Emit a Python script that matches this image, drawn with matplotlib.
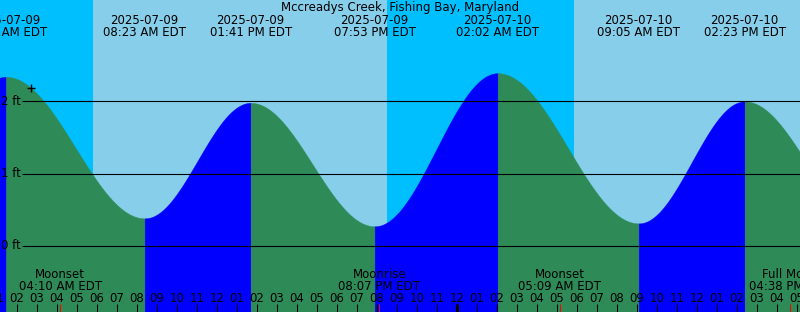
import numpy as np
import matplotlib.pyplot as plt

# --- data (hours counted from 2025-07-09 00:00 EDT, heights in ft) ---
tide_hours = [-4.8, 1.45, 8.383, 13.683, 19.883, 26.033, 33.083, 38.383, 44.6]
tide_heights = [0.30, 2.34, 0.38, 1.98, 0.27, 2.39, 0.31, 2.00, 0.30]
tide_dates = ["", "2025-07-09", "2025-07-09", "2025-07-09", "2025-07-09",
              "2025-07-10", "2025-07-10", "2025-07-10", ""]
tide_times = ["", "01:27 AM EDT", "08:23 AM EDT", "01:41 PM EDT", "07:53 PM EDT",
              "02:02 AM EDT", "09:05 AM EDT", "02:23 PM EDT", ""]

moon_hours = [4.167, 20.117, 29.15, 40.633]
moon_names = ["Moonset", "Moonrise", "Moonset", "Full Moon"]
moon_times = ["04:10 AM EDT", "08:07 PM EDT", "05:09 AM EDT", "04:38 PM EDT"]

day_start = [5.8, 29.85]
day_end = [20.5, 44.5]

level_lines = [0, 1, 2]
level_labels = ["0 ft", "1 ft", "2 ft"]

now_hour = 2.7
title = "Mccreadys Creek, Fishing Bay, Maryland"

# --- layout ---
W, H = 800, 312
x_min, x_max = 1.15, 41.15
y_min, y_max = -0.917, 3.404
fs = 8.5
night_col = "#00BFFF"
day_col = "#87CEEB"
fall_col = "#2E8B57"
rise_col = "#0000FF"


def frac(px):
    # pixel row from top -> axes fraction
    return 1 - px / H


def tide_at(t):
    for i in range(len(tide_hours) - 1):
        t0, t1 = tide_hours[i], tide_hours[i + 1]
        if t0 <= t <= t1:
            h0, h1 = tide_heights[i], tide_heights[i + 1]
            return h1 + (h0 - h1) * (1 + np.cos(np.pi * (t - t0) / (t1 - t0))) / 2
    return np.nan


fig = plt.figure(figsize=(W / 100, H / 100), dpi=100)
ax = fig.add_axes([0, 0, 1, 1])
ax.set_xlim(x_min, x_max)
ax.set_ylim(y_min, y_max)
ax.axis("off")
xt = ax.get_xaxis_transform()

# sky: night background, day spans
ax.axvspan(x_min, x_max, color=night_col, lw=0)
for s, e in zip(day_start, day_end):
    ax.axvspan(s, e, color=day_col, lw=0)

# tide curve, blue while rising, green while falling
for i in range(len(tide_hours) - 1):
    t = np.linspace(tide_hours[i], tide_hours[i + 1], 300)
    h = np.array([tide_at(v) for v in t])
    c = rise_col if tide_heights[i + 1] > tide_heights[i] else fall_col
    ax.fill_between(t, y_min, h, color=c, lw=0.3, edgecolor=c)

# level lines
ax.hlines(level_lines, 2.25, x_max, color="black", lw=0.8)
for lv, lab in zip(level_lines, level_labels):
    ax.text(1.2, lv - 0.051, lab, fontsize=fs, ha="left", va="baseline")

# current time marker
ax.plot(now_hour, tide_at(now_hour), marker="+", color="black", ms=6, mew=1)

# title and tide event labels
ax.text(0.5, frac(11), title, transform=ax.transAxes, fontsize=fs,
        ha="center", va="baseline")
for t, d, tm in zip(tide_hours, tide_dates, tide_times):
    if not d:
        continue
    ax.text(t, frac(24), d, transform=xt, fontsize=fs, ha="center", va="baseline")
    ax.text(t, frac(35.7), tm, transform=xt, fontsize=fs, ha="center", va="baseline")

# moon events
for t, n, tm in zip(moon_hours, moon_names, moon_times):
    ax.text(t, frac(278.3), n, transform=xt, fontsize=fs, ha="center", va="baseline")
    ax.text(t, frac(290), tm, transform=xt, fontsize=fs, ha="center", va="baseline")

# hour ticks
hours = np.arange(1, 42)
for hr in hours:
    lw = 2.2 if hr % 24 == 0 else 0.75
    ax.vlines(hr, 0, frac(303.7), transform=xt, color="black", lw=lw)
    ax.text(hr, frac(301.7), "%02d" % ((hr - 1) % 12 + 1), transform=xt,
            fontsize=fs, ha="center", va="baseline")
ax.vlines(moon_hours, 0, frac(303.7), transform=xt, color="red", lw=0.75)

fig.savefig("out.png", dpi=100)
